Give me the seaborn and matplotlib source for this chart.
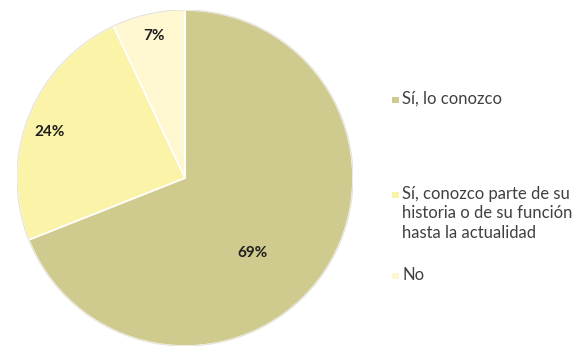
import matplotlib
matplotlib.use("Agg")
import numpy as np
import matplotlib.pyplot as plt
import seaborn as sns
from matplotlib.patches import Rectangle

# Survey answers and their shares (%)
categories = [
    "Sí, lo conozco",
    "Sí, conozco parte de su\nhistoria o de su función\nhasta la actualidad",
    "No",
]
shares = [69, 24, 7]
pct_labels = ["69%", "24%", "7%"]
colors = ["#CFCA8E", "#FBF3A8", "#FEF7D0"]

# Percentage label placement: radial fraction and angle shift from the wedge middle
label_radius = [0.60, 0.85, 0.865]
label_shift = [-14.0, 2.8, -0.3]

sns.set_theme(style="white")
plt.rcParams["font.family"] = ["Lato", "DejaVu Sans"]

W, H = 583, 349
fig = plt.figure(figsize=(W / 100, H / 100), dpi=100)
fig.patch.set_facecolor("white")

cx, cy, r = 185, H - 178, 168
ax = fig.add_axes([(cx - r) / W, (cy - r) / H, 2 * r / W, 2 * r / H])
wedges, _ = ax.pie(
    shares,
    colors=colors,
    startangle=90,
    counterclock=False,
    radius=1.0,
    wedgeprops=dict(edgecolor="white", linewidth=1.2),
)
ax.set_xlim(-1, 1)
ax.set_ylim(-1, 1)
ax.set_aspect("equal")
ax.axis("off")

# faint outer rim of the pie
ax.add_patch(plt.Circle((0, 0), 1.0, fill=False, edgecolor="#E4E2D6", linewidth=0.8))

for w, txt, rr, sh in zip(wedges, pct_labels, label_radius, label_shift):
    mid = np.deg2rad((w.theta1 + w.theta2) / 2 + sh)
    ax.text(rr * np.cos(mid), rr * np.sin(mid), txt, ha="center", va="center",
            fontsize=11, fontweight="bold", color="#1E1E1E")

# Legend at the right: square + text, first text line centred on the given row
legend_y = [100, 195, 276]  # pixel rows from the top
sq = 6.5
fs = 12
for lab, col, y in zip(categories, colors, legend_y):
    fig.patches.append(Rectangle((392 / W, (H - y - sq / 2) / H), sq / W, sq / H,
                                 transform=fig.transFigure, facecolor=col,
                                 edgecolor="none"))
    fig.text(402 / W, (H - y + 9) / H, lab, ha="left", va="top", fontsize=fs,
             color="#404040", linespacing=1.25)

fig.savefig("out.png", dpi=100, facecolor="white")
